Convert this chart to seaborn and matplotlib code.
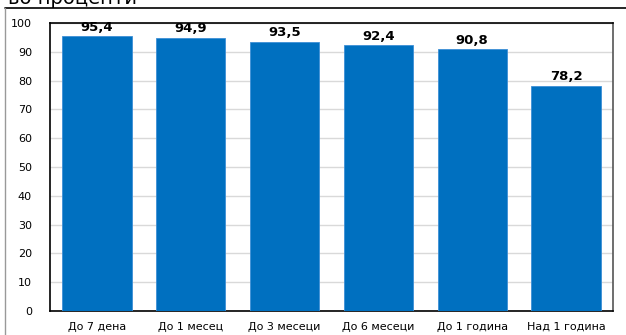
import matplotlib
matplotlib.use("Agg")
import matplotlib.pyplot as plt
import seaborn as sns
import pandas as pd
from matplotlib.lines import Line2D

categories = ["До 7 дена", "До 1 месец", "До 3 месеци", "До 6 месеци", "До 1 година", "Над 1 година"]
values = [95.4, 94.9, 93.5, 92.4, 90.8, 78.2]
yticks = [0, 10, 20, 30, 40, 50, 60, 70, 80, 90, 100]
title = "во проценти"

sns.set_theme(style="white")
plt.rcParams['font.family'] = ['DejaVu Sans']

df = pd.DataFrame({"cat": categories, "val": values})

fig = plt.figure(figsize=(6.26, 3.35), dpi=100)
ax = fig.add_axes([50/626, 1-311/335, (613-50)/626, (311-23)/335])

sns.barplot(data=df, x="cat", y="val", color="#0070C0", saturation=1, width=0.74,
            edgecolor="#3d8fd6", linewidth=0.6, ax=ax, zorder=3)

ax.set_ylim(0, 100)
ax.set_xlim(-0.5, len(categories) - 0.5)
ax.set_yticks(yticks)
ax.set_yticklabels([str(t) for t in yticks], fontsize=8, color="black")
ax.tick_params(axis='x', labelsize=8, colors="black", length=0, pad=8)
ax.tick_params(axis='y', length=0, pad=13)
ax.set_xlabel("")
ax.set_ylabel("")
ax.yaxis.grid(True, color="#d9d9d9", linewidth=1, zorder=0)
ax.set_axisbelow(True)

for s in ["left", "bottom", "top"]:
    ax.spines[s].set_color("black")
    ax.spines[s].set_linewidth(1.2)
ax.spines["right"].set_color("#555555")
ax.spines["right"].set_linewidth(1.2)

for i, v in enumerate(values):
    ax.text(i, v + 0.8, f"{v:.1f}".replace(".", ","), ha="center", va="bottom",
            fontsize=9.5, fontweight="bold", color="black")

# outer chart frame
fig.add_artist(Line2D([5/626, 1.0], [1-8/335, 1-8/335], transform=fig.transFigure, color="black", linewidth=1.2))
fig.add_artist(Line2D([5/626, 5/626], [0, 1-8/335], transform=fig.transFigure, color="#999999", linewidth=1.0))

fig.text(8/626, 1-4/335, title, fontsize=14, ha="left", va="baseline", color="black")

fig.savefig("out.png", dpi=100)
